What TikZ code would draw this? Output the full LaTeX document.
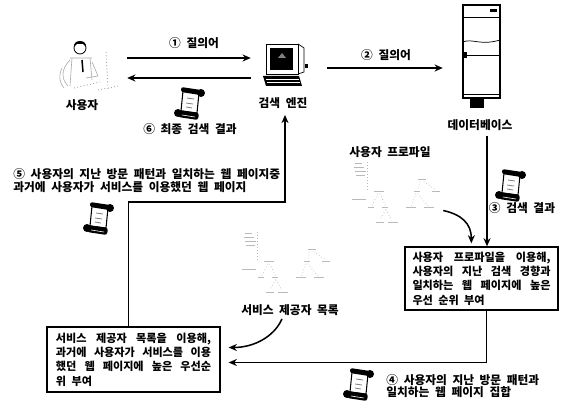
\documentclass[tikz,border=0pt]{standalone}
\usepackage{fontspec}
\setmainfont{Noto Sans CJK KR}[WordSpace=2.1]
\usetikzlibrary{arrows.meta,positioning,calc}

% rolled paper sheet used for the result sets
\tikzset{
  scroll/.pic={
    \draw[line width=0.9pt, fill=white] (-7,-12) -- (9,-10) -- (7,10) -- (-9,8) -- cycle;
    \draw[gray, line width=0.7pt] (-3,-5) -- (4,-4) (-4,0) -- (3,1) (-4,4) -- (2,5);
    \fill[rounded corners=2pt] (-9,-16) -- (11,-13) -- (10,-8) -- (-9,-11) -- cycle;
    \fill (11,-10) circle (4);
    \fill[rounded corners=2pt] (-11,7) -- (9,10) -- (8,17) -- (-12,14) -- cycle;
    \fill (-12,10) circle (4);
    \draw[white, line width=0.5pt] (-8,12) -- (5,14);
  },
  faintree/.pic={
    \begin{scope}[gray!55, line width=0.6pt]
      % leaf block
      \draw[line width=1pt] (3,2) -- (10,2);
      \draw (2,6) -- (12,6) (3,10) -- (14,10) (4,14) -- (13,14);
      \draw[dotted] (16,0) -- (16,28);
      % left subtree
      \draw (22,30) -- (32,30) (0,38) -- (14,38);
      \draw[dotted] (26,32) -- (20,44) (28,32) -- (34,44);
      \draw (16,46) -- (22,46) (30,46) -- (36,46);
      \draw[dotted] (34,48) -- (28,58) (34,48) -- (40,58);
      \draw (24,61) -- (32,61) (36,61) -- (46,61);
      % right subtree
      \draw (66,18) -- (74,18);
      \draw[dotted] (68,20) -- (66,28) (72,20) -- (84,28);
      \draw (62,30) -- (68,30) (80,30) -- (88,30);
      \draw[dotted] (64,32) -- (60,44) (66,32) -- (76,44);
      \draw (54,46) -- (64,46) (72,46) -- (82,46);
    \end{scope}
  }
}

\begin{document}
\begin{tikzpicture}[
    x=0.03cm, y=-0.03cm,
    lbl/.style={font=\fontsize{10}{11}\selectfont\bfseries, inner sep=1pt},
    box/.style={rectangle, draw=black, line width=1.1pt, fill=white, align=justify, inner xsep=0.2cm, inner ysep=0.1cm, font=\fontsize{9.5}{12.2}\selectfont\bfseries},
    icon/.style={inner sep=0pt},
    arrow/.style={->, >={Stealth[length=7pt, width=6pt]}, line width=1.3pt}
  ]
  \useasboundingbox (0,0) rectangle (569,401);

  % Icons
  \node[icon, minimum width=2.01cm, minimum height=1.8cm] (user) at (93.5,68) {};
  \node[icon, minimum width=2.28cm, minimum height=1.3cm] (engine) at (289,68) {};
  \node[icon, minimum width=2.31cm, minimum height=3.09cm] (db) at (481.5,56.5) {};
  \node[icon, minimum width=2.73cm, minimum height=1.95cm] (ptree) at (397.5,194.5) {};
  \node[icon, minimum width=2.73cm, minimum height=1.95cm] (stree) at (287.5,264.5) {};

  % user
  \begin{scope}[gray!70, line width=0.5pt]
    \draw[black, line width=0.7pt] (80,48) circle (6);
    \fill[black] (74,47) .. controls (73,39) and (87,39) .. (86,47) -- (83,44) -- (77,44) -- cycle;
    \draw (70,58) -- (92,58) (72,58) -- (70,86) (90,58) -- (92,80);
    \draw (70,60) .. controls (60,70) and (62,80) .. (68,86);
    \draw (92,62) -- (98,76) -- (86,78);
    \draw[dotted, line width=0.8pt] (74,88) -- (100,82) (106,52) -- (108,90) (98,90) -- (118,86);
    \draw (62,68) .. controls (58,76) and (60,84) .. (64,88);
  \end{scope}
  \draw[line width=1.3pt] (82,60) -- (83,72);

  % search engine
  \draw[line width=0.8pt, fill=white] (266,44) rectangle (298,74);
  \draw[line width=0.6pt] (298,44) -- (304,48) -- (304,72) -- (298,74);
  \fill (270,48) rectangle (293,70);
  \fill[gray] (278,58) -- (282,53) -- (286,58) -- cycle;
  \fill (263,76) -- (299,76) -- (302,86) -- (266,86) -- cycle;
  \draw[white, line width=0.4pt] (266,79) -- (299,79) (267,82) -- (300,82);
  \fill (305,64) rectangle (308,68);

  % database
  \draw[line width=0.9pt, fill=white] (463,5) rectangle (500,98);
  \draw[line width=0.7pt] (463,17) -- (500,17);
  \fill (490,9) rectangle (497,12);
  \draw[line width=0.6pt] (463,42) .. controls (472,38) and (480,46) .. (500,40);
  \draw[line width=0.7pt] (463,55) -- (500,55);
  \fill (462,52) rectangle (467,58);
  \draw[line width=0.7pt] (463,94) -- (500,94);
  \fill (470,98) rectangle (484,108);

  % trees
  \pic at (ptree.north west) {faintree};
  \pic at (stree.north west) {faintree};

  % result sheets
  \pic at (190,103) {scroll};
  \pic at (99,218) {scroll};
  \pic at (511,185) {scroll};
  \pic at (359,384) {scroll};

  % Labels
  \node[lbl] (q1) at (194,43) {① 질의어};
  \node[lbl] (q6) at (190,129) {⑥ 최종 검색 결과};
  \node[lbl] (q2) at (386,55) {② 질의어};
  \node[lbl] (ulabel) at (82,105) {사용자};
  \node[lbl] (elabel) at (283,103) {검색 엔진};
  \node[lbl] (dblabel) at (480,125) {데이터베이스};
  \node[lbl, anchor=west, align=left] (q5) at (12,181) {⑤ 사용자의 지난 방문 패턴과 일치하는 웹 페이지중\\과거에 사용자가 서비스를 이용했던 웹 페이지};
  \node[lbl] (plabel) at (390,152) {사용자 프로파일};
  \node[lbl] (q3) at (522,208) {③ 검색 결과};
  \node[lbl] (slabel) at (290,310) {서비스 제공자 목록};
  \node[lbl, anchor=west, align=left] (q4) at (385,386) {④ 사용자의 지난 방문 패턴과\\일치하는 웹 페이지 집합};

  % Boxes
  \node[box, minimum width=4.59cm, minimum height=1.89cm, text width=4.14cm] (rbox) at (481.5,278.5)
    {사용자 프로파일을 이용해,\linebreak 사용자의 지난 검색 경향과\linebreak 일치하는 웹 페이지에 높은\linebreak 우선 순위 부여};
  \node[box, minimum width=5.19cm, minimum height=1.95cm, text width=4.65cm] (lbox) at (133.5,359.5)
    {서비스 제공자 목록을 이용해,\linebreak 과거에 사용자가 서비스를 이용\linebreak 했던 웹 페이지에 높은 우선순\linebreak 위 부여};

  % Arrows
  \draw[arrow] ($(user.east)+(0,-10)$) -- ($(engine.west)+(0,-10)$);
  \draw[arrow] ($(engine.west)+(0,10)$) -- ($(user.east)+(0,10)$);
  \draw[arrow] (engine.east) -- (engine.east -| db.west);
  \coordinate (q3top) at ($(dblabel.south)+(7,4)$);
  \draw[arrow] (q3top) -- (q3top |- rbox.north);
  \coordinate (pfrom) at ($(ptree.east)+(0,16)$);
  \coordinate (pto) at ($(rbox.north west)+(67,-3)$);
  \draw[arrow] (pfrom) .. controls +(18,4) and +(0,-20) .. (pto);
  \draw[arrow] ($(rbox.south)+(5,0)$) |- ($(lbox.east)+(8,3)$);
  \coordinate (sfrom) at ($(slabel.south)+(-8,2)$);
  \coordinate (sto) at ($(lbox.east)+(8,-12)$);
  \draw[arrow] (sfrom) .. controls +(-8,18) and +(25,0) .. (sto);
  \coordinate (turn) at (285,202);
  \draw[arrow] ($(lbox.north)+(-5,0)$) |- (turn) -- ($(elabel.south)+(2,5)$);
\end{tikzpicture}
\end{document}
